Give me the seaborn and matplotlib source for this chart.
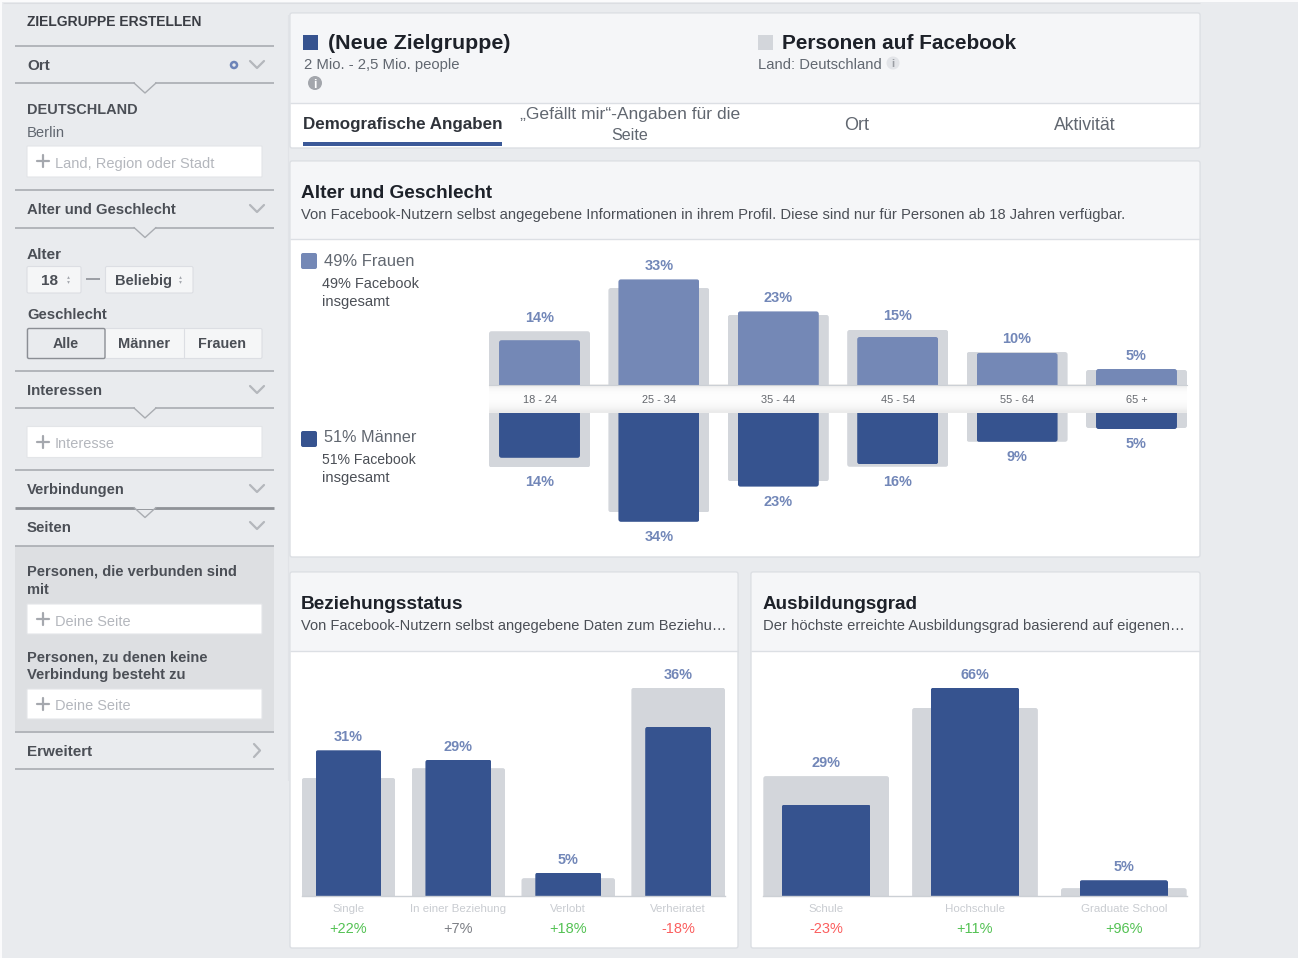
import matplotlib
matplotlib.use("Agg")
import matplotlib.pyplot as plt
from matplotlib.patches import FancyBboxPatch, Rectangle, Circle
from matplotlib.transforms import IdentityTransform
import numpy as np
import pandas as pd
import seaborn as sns

W, H = 1298, 958

# ---- data ----
age_groups = ["18 - 24", "25 - 34", "35 - 44", "45 - 54", "55 - 64", "65 +"]
women_audience = [14, 33, 23, 15, 10, 5]
women_facebook = [16.8, 30.3, 21.9, 17.2, 10.3, 4.7]
men_audience = [14, 34, 23, 16, 9, 5]
men_facebook = [17, 31, 21.3, 16.8, 9, 4.7]

rel_status = ["Single", "In einer Beziehung", "Verlobt", "Verheiratet"]
rel_audience = [31, 29, 5, 36]
rel_facebook = [25.1, 27.2, 3.8, 44.3]
rel_delta = ["+22%", "+7%", "+18%", "-18%"]

edu_levels = ["Schule", "Hochschule", "Graduate School"]
edu_audience = [29, 66, 5]
edu_facebook = [38, 59.6, 2.5]
edu_delta = ["-23%", "+11%", "+96%"]

# ---- colours ----
BG = "#e9ebee"; CARD_HEAD = "#f5f6f8"; BORDER = "#dcdfe3"; LINE = "#a9acb1"
GRAY_BAR = "#d3d6db"; DARK = "#36538f"; LIGHT = "#7488b6"; LABEL = "#7287b8"
TXT_D = "#1d2129"; TXT_M = "#4b4f56"; TXT_L = "#616770"; PLACEH = "#b4b7bd"
GREEN = "#54c254"; RED = "#fb5f5f"; NEUT = "#7c7f85"; CAT = "#c9ccd1"

sns.set_theme(style="white")
plt.rcParams["font.family"] = ["Liberation Sans", "DejaVu Sans"]

fig = plt.figure(figsize=(W / 100, H / 100), dpi=100, facecolor=BG)
ui = fig.add_axes([0, 0, 1, 1], zorder=0)
ui.set_xlim(0, W); ui.set_ylim(H, 0); ui.axis("off")
renderer = fig.canvas.get_renderer()


def T(x, y, s, px=14, weight="normal", color=TXT_M, ha="left", w=None):
    t = ui.text(x, y - 1, s, fontsize=px * 0.72, fontweight=weight, color=color,
                ha=ha, va="center_baseline")
    if w is not None:
        cur = t.get_window_extent(renderer).width
        t.set_fontsize(px * 0.72 * w / cur)
    return t


def box(l, t, r, b, fc, ec="none", rad=1.5, lw=1, z=1):
    ui.add_patch(FancyBboxPatch((l, t), r - l, b - t,
                                boxstyle=f"round,pad=0,rounding_size={rad}",
                                fc=fc, ec=ec, lw=lw, zorder=z))


def rect(l, t, r, b, fc, z=1):
    ui.add_patch(Rectangle((l, t), r - l, b - t, fc=fc, ec="none", zorder=z))


def hline(y, l=15, r=274, color=LINE, lw=1.2, z=2):
    ui.plot([l, r], [y, y], color=color, lw=lw, zorder=z, solid_capstyle="butt")


def notch(y, z=3):
    rect(135, y - 1.5, 155, y + 1.5, BG, z=z)
    ui.plot([134, 145, 156], [y, y + 10, y], color=LINE, lw=1.0, zorder=z + 1)


def chevron(y, x=257):
    ui.plot([x - 7, x, x + 7], [y - 4, y + 3, y - 4], color="#b4b7bc", lw=1.6, zorder=3)


def inputbox(t, b, label, w):
    box(27, t, 262, b, "white", ec="#e3e5e8", lw=0.8, rad=0.5, z=2)
    ui.plot([36.5, 48.5], [t + 15, t + 15], color="#a5a8ae", lw=1.6, zorder=3)
    ui.plot([42.5, 42.5], [t + 9, t + 21], color="#a5a8ae", lw=1.6, zorder=3)
    T(55, t + 17, label, 14, color=PLACEH, w=w).set_zorder(3)


def stepper(x, y):
    ui.plot([x], [y - 2.2], marker="^", ms=2.0, color="#a3a6ac", zorder=3, mew=0)
    ui.plot([x], [y + 2.2], marker="v", ms=2.0, color="#a3a6ac", zorder=3, mew=0)


def info(x, y, r, fc, fg):
    ui.add_patch(Circle((x, y), r, fc=fc, ec="none", zorder=3))
    T(x, y + 1, "i", r * 1.7, "bold", fg, ha="center").set_zorder(4)


# ---- page edge ----
rect(0, 0, W, 2, "#fbfbfc", z=1)
rect(0, 0, 1.5, H, "#fbfbfc", z=1)
hline(2.5, 3, 1200, "#dcdee2", 0.8)
ui.plot([288, 288], [15, 780], color="#e1e3e7", lw=0.8, zorder=1)

# ---- sidebar ----
T(27, 21.5, "ZIELGRUPPE ERSTELLEN", 13, "bold", "#3a3d44", w=175)
for yy in [46, 83, 190, 227.5, 371, 408, 470, 545.5, 731.5, 769]:
    hline(yy)
hline(507.5, lw=2.0, color="#8f9297")
rect(15, 546, 274, 731, "#dddfe2")
for yy in [83, 227.5, 408, 507.5]:
    notch(yy)

T(27, 65.5, "Ort", 14, "bold", w=23)
ui.add_patch(Circle((234, 65), 3, fc="none", ec="#6d84b8", lw=1.8, zorder=3))
chevron(65)
T(27, 109.5, "DEUTSCHLAND", 14, "bold", w=110)
T(27, 132.5, "Berlin", 14, color=TXT_L, w=38)
inputbox(146, 177, "Land, Region oder Stadt", 160)

T(27, 209.5, "Alter und Geschlecht", 14, "bold", w=149)
chevron(209)
T(27, 254.5, "Alter", 14, "bold", w=35)
box(27, 266.5, 81, 293, "#f5f6f7", ec="#dcdee3", lw=0.8)
T(49, 280.5, "18", 14, "bold", ha="center", w=17)
stepper(68, 279.5)
hline(279, 86, 100, "#9a9da3", 1.4)
box(105.5, 266.5, 193, 293, "#f5f6f7", ec="#dcdee3", lw=0.8)
T(115, 280.5, "Beliebig", 14, "bold", w=57)
stepper(180, 279.5)
T(27, 314.5, "Geschlecht", 14, "bold", w=80)
box(27, 328.5, 262, 358.5, "#f5f6f7", ec="#dcdee3", lw=0.8, z=2)
box(27.5, 328.5, 105, 358.5, BG, ec="#8b8e94", lw=1.0, z=3)
ui.plot([184, 184], [329, 358], color="#dcdee3", lw=0.8, zorder=3)
T(66, 343, "Alle", 14, "bold", ha="center", w=26).set_zorder(4)
T(144, 343, "Männer", 14, "bold", ha="center", w=52).set_zorder(4)
T(222, 343, "Frauen", 14, "bold", ha="center", w=48).set_zorder(4)

T(27, 390.5, "Interessen", 14, "bold", w=75)
chevron(390)
inputbox(426.5, 457.5, "Interesse", 60)
T(27, 489.5, "Verbindungen", 14, "bold", w=98)
chevron(489)
T(27, 527.5, "Seiten", 14, "bold", w=45)
chevron(526)
T(27, 571.5, "Personen, die verbunden sind", 14, "bold", w=209).set_zorder(3)
T(27, 589.5, "mit", 14, "bold", w=22).set_zorder(3)
inputbox(604, 634, "Deine Seite", 75)
T(27, 656.5, "Personen, zu denen keine", 14, "bold", w=180).set_zorder(3)
T(27, 674.5, "Verbindung besteht zu", 14, "bold", w=160).set_zorder(3)
inputbox(689, 719, "Deine Seite", 75)
T(27, 751.5, "Erweitert", 14, "bold", w=65)
ui.plot([254, 260, 254], [744, 750.5, 757], color="#b4b7bc", lw=1.6, zorder=3)

# ---- cards ----
for l, t, r, hd, b in [(290, 13, 1200, 102.5, 148), (290, 161, 1200, 238.5, 557),
                       (290, 572, 738, 650.5, 948), (751, 572, 1200, 650.5, 948)]:
    box(l, t, r, b, "white", ec=BORDER, lw=1.0, rad=2, z=1)
    rect(l + 0.7, t + 0.7, r - 0.7, hd, CARD_HEAD, z=1)
    hline(hd, l, r, "#dcdfe4", 1.0)

# header of audience card
rect(303, 35, 318, 50, DARK, z=2)
T(328, 42.5, "(Neue Zielgruppe)", 22, "bold", TXT_D, w=182)
T(304, 64.5, "2 Mio. - 2,5 Mio. people", 14, color=TXT_L, w=156)
info(315, 83, 7, "#a3a6ac", "white")
rect(758, 35, 773, 50, GRAY_BAR, z=2)
T(782, 42.5, "Personen auf Facebook", 22, "bold", TXT_D, w=235)
T(758, 64.5, "Land: Deutschland", 14, color=TXT_L, w=124)
info(893, 63, 6.5, "#e2e4e8", "#9a9da3")

T(303, 123.5, "Demografische Angaben", 17, "bold", "#2f333a", w=199)
rect(303, 142, 502, 145.5, "#3b5998", z=2)
T(630.5, 113.5, "„Gefällt mir“-Angaben für die", 16, color=TXT_L, ha="center", w=221)
T(630, 134.5, "Seite", 16, color=TXT_L, ha="center", w=37)
T(857, 124, "Ort", 16, color=TXT_L, ha="center", w=25)
T(1085, 124, "Aktivität", 16, color=TXT_L, ha="center", w=62)

T(301, 192.5, "Alter und Geschlecht", 20, "bold", TXT_D, w=191)
T(301, 214.5, "Von Facebook-Nutzern selbst angegebene Informationen in ihrem Profil. "
    "Diese sind nur für Personen ab 18 Jahren verfügbar.", 14, color=TXT_M, w=825)

# legend of the age chart
box(301, 253, 317, 269, LIGHT, rad=2, z=2)
T(324, 261.5, "49% Frauen", 16, color=TXT_L, w=90)
T(322, 283.5, "49% Facebook", 14, color=TXT_M, w=97)
T(322, 301.5, "insgesamt", 14, color=TXT_M, w=68)
box(301, 431, 317, 447, DARK, rad=2, z=2)
T(324, 437.5, "51% Männer", 16, color=TXT_L, w=92)
T(322, 459.5, "51% Facebook", 14, color=TXT_M, w=94)
T(322, 477.5, "insgesamt", 14, color=TXT_M, w=68)

T(301, 603.5, "Beziehungsstatus", 19, "bold", TXT_D, w=163)
T(301, 625.5, "Von Facebook-Nutzern selbst angegebene Daten zum Beziehu…", 14,
  color=TXT_M, w=425)
T(763, 603.5, "Ausbildungsgrad", 19, "bold", TXT_D, w=155)
T(763, 625.5, "Der höchste erreichte Ausbildungsgrad basierend auf eigenen…", 14,
  color=TXT_M, w=421)

# label band of the age chart
grad = np.array([0.93, 0.965, 0.985, 0.99, 0.99, 0.985, 0.975, 0.955, 0.92])[:, None]
ui.imshow(grad, extent=(489, 1187, 413.5, 385), cmap="gray", vmin=0, vmax=1,
          aspect="auto", zorder=2, interpolation="bilinear")
ui.set_xlim(0, W); ui.set_ylim(H, 0)


# ---- charts ----
def data_axes(l, t, r, b):
    ax = fig.add_axes([l / W, 1 - b / H, (r - l) / W, (b - t) / H], zorder=1)
    ax.patch.set_alpha(0)
    return ax


def bars(ax, cats, back, front, w_back, w_front, front_color):
    frame = pd.DataFrame({"cat": cats, "back": back, "front": front})
    sns.barplot(data=frame, x="cat", y="back", order=cats, color=GRAY_BAR, saturation=1,
                width=w_back, errorbar=None, ax=ax)
    sns.barplot(data=frame, x="cat", y="front", order=cats, color=front_color, saturation=1,
                width=w_front, errorbar=None, ax=ax)
    for p in ax.patches:
        p.set_edgecolor("none"); p.set_linewidth(0)
    ax.set_xlabel(""); ax.set_ylabel(""); ax.set_yticks([])
    for s in ["top", "left", "right", "bottom"]:
        ax.spines[s].set_visible(False)


def round_corners(ax, grows_up=True, rad=2.5):
    """Clip each bar so the free end has small rounded corners, as in the reference."""
    for p in ax.patches:
        e = p.get_window_extent(renderer)
        y0 = e.y0 - 6 if grows_up else e.y0
        hgt = e.height + 6
        clip = FancyBboxPatch((e.x0, y0), e.width, hgt,
                              boxstyle=f"round,pad=0,rounding_size={rad}",
                              transform=IdentityTransform())
        p.set_clip_path(clip)


def value_labels(ax, back, front, off):
    for i, (g, a) in enumerate(zip(back, front)):
        ax.annotate(f"{a}%", (i, max(g, a)), xytext=(0, off * 0.72), textcoords="offset points",
                    ha="center", va="center_baseline", color=LABEL, fontweight="bold",
                    fontsize=14.5 * 0.72, annotation_clip=False)


def bottom_axis(ax, deltas):
    ax.spines["bottom"].set_visible(True)
    ax.spines["bottom"].set_color("#ccd0d5")
    ax.spines["bottom"].set_linewidth(1.0)
    ax.tick_params(axis="x", length=0, pad=6.0, labelsize=11.5 * 0.72, labelcolor=CAT)
    colors = {"+": GREEN, "-": RED}
    for i, d in enumerate(deltas):
        col = NEUT if d == "+7%" else colors[d[0]]
        ax.annotate(d, (i, 0), xytext=(0, -31.5 * 0.72), textcoords="offset points",
                    ha="center", va="center_baseline", color=col,
                    fontsize=14.5 * 0.72, annotation_clip=False)


lim = (-0.423, 5.423)
up = data_axes(489, 255, 1187, 385)
bars(up, age_groups, women_facebook, women_audience, 0.846, 0.678, LIGHT)
up.set_xlim(*lim); up.set_ylim(0, 130 / 3.2)
value_labels(up, women_facebook, women_audience, 15)
up.spines["bottom"].set_visible(True); up.spines["bottom"].set_color("#ccd0d5")
up.spines["bottom"].set_linewidth(0.8)
up.tick_params(axis="x", length=0, pad=7.0, labelsize=11 * 0.72, labelcolor="#63666c")
round_corners(up)

low = data_axes(489, 413, 1187, 543)
bars(low, age_groups, men_facebook, men_audience, 0.846, 0.678, DARK)
low.set_xlim(*lim); low.set_ylim(130 / 3.2, 0)
low.set_xticks([])
value_labels(low, men_facebook, men_audience, -13.5)
round_corners(low, grows_up=False)

rel = data_axes(301.7, 660, 725, 896)
bars(rel, rel_status, rel_facebook, rel_audience, 0.852, 0.60, DARK)
rel.set_xlim(-0.426, 3.426); rel.set_ylim(0, 236 / 4.7)
value_labels(rel, rel_facebook, rel_audience, 14.5)
bottom_axis(rel, rel_delta)
round_corners(rel)

edu = data_axes(763.3, 660, 1186.7, 896)
bars(edu, edu_levels, edu_facebook, edu_audience, 0.845, 0.595, DARK)
edu.set_xlim(-0.4225, 2.4225); edu.set_ylim(0, 236 / 3.155)
value_labels(edu, edu_facebook, edu_audience, 14.5)
bottom_axis(edu, edu_delta)
round_corners(edu)

fig.savefig("out.png", dpi=100, facecolor=BG)
